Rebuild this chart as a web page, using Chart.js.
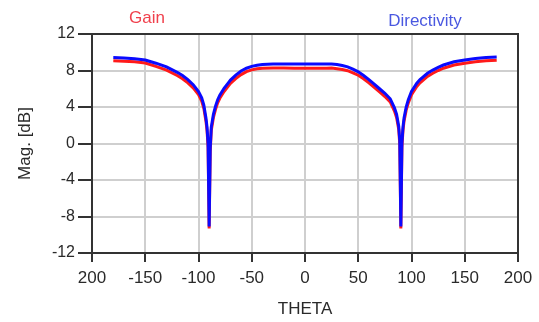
<!DOCTYPE html>
<html>
<head>
<meta charset="utf-8">
<script src="https://cdn.jsdelivr.net/npm/chart.js@4.4.0/dist/chart.umd.min.js"></script>
<style>
  html, body { margin: 0; padding: 0; background: #fff; }
  #wrap { width: 539px; height: 322px; }
</style>
</head>
<body>
<div id="wrap"><canvas id="myChart" width="539" height="322"></canvas></div>
<script>
// theta sweep (deg) and pattern magnitudes (dB)
const theta = [-180,-170,-160,-150,-140,-130,-120,-115,-110,-105,
  -100,-97,-95,-93,-92,-91,-90,-89,-88,-87,
  -86,-84,-82,-80,-76,-72,-70,-65,-60,-55,
  -50,-45,-40,-30,-20,-10,0,10,20,25,
  30,35,40,45,50,55,60,65,70,75,
  80,84,86,88,89,90,91,92,93,95,
  97,100,105,108,111,115,120,125,130,140,
  150,160,170,180];

const directivity = [9.42,9.38,9.3,9.15,8.8,8.4,7.8,7.45,7.0,6.45,
  5.7,5.0,4.2,2.8,1.8,0.0,-9.1,-0.5,1.8,2.5,
  3.2,4.1,4.8,5.3,6.05,6.65,6.95,7.5,7.95,8.25,
  8.45,8.58,8.66,8.72,8.72,8.7,8.7,8.7,8.7,8.72,
  8.65,8.55,8.4,8.15,7.85,7.45,7.0,6.5,6.0,5.5,
  4.9,3.9,3.2,1.9,0.3,-9.1,0.0,1.8,2.8,4.0,
  4.8,5.7,6.6,7.0,7.3,7.7,8.05,8.35,8.6,8.95,
  9.15,9.32,9.42,9.48];

const gain = [9.06,9.02,8.95,8.82,8.45,8.05,7.45,7.1,6.65,6.1,
  5.35,4.65,3.85,2.45,1.45,-0.4,-9.3,-0.9,1.45,2.15,
  2.85,3.75,4.45,4.95,5.7,6.3,6.6,7.12,7.55,7.87,
  8.07,8.18,8.24,8.27,8.27,8.25,8.25,8.25,8.25,8.27,
  8.2,8.1,7.98,7.75,7.48,7.1,6.65,6.15,5.65,5.15,
  4.55,3.55,2.85,1.55,-0.1,-9.3,-0.4,1.45,2.45,3.65,
  4.45,5.35,6.25,6.65,6.95,7.35,7.7,8.0,8.25,8.6,
  8.8,8.96,9.06,9.12];

const xTicks = [-200,-150,-100,-50,0,50,100,150,200];
const yLabels = [-12,-8,-4,0,4,8,12];

Chart.defaults.font.family = '"Liberation Sans", Arial, sans-serif';
Chart.defaults.color = '#2a2a2a';

function points(ys){
  return theta.map(function(t, i){ return {x: t, y: ys[i]}; });
}

// box around the plot area plus the two trace names
const frame = {
  id: 'frame',
  afterDraw: function(chart){
    const c = chart.ctx, a = chart.chartArea;
    c.save();
    c.strokeStyle = '#333';
    c.lineWidth = 2;
    c.strokeRect(a.left, a.top, a.right - a.left, a.bottom - a.top);
    c.font = '17px "Liberation Sans", Arial, sans-serif';
    c.textAlign = 'center';
    c.textBaseline = 'middle';
    c.fillStyle = '#f0404c';
    c.fillText('Gain', 147, 18);
    c.fillStyle = '#4a58e0';
    c.fillText('Directivity', 425, 21);
    c.restore();
  }
};

new Chart(document.getElementById('myChart'), {
  type: 'scatter',
  data: {
    datasets: [{
      label: 'Gain',
      data: points(gain),
      showLine: true,
      borderColor: '#ff1a1a',
      borderWidth: 3,
      pointRadius: 0,
      order: 2
    }, {
      label: 'Directivity',
      data: points(directivity),
      showLine: true,
      borderColor: '#0a0aff',
      borderWidth: 3,
      pointRadius: 0,
      order: 1
    }]
  },
  options: {
    responsive: false,
    animation: false,
    layout: { padding: { left: 0, top: 34, right: 21, bottom: 0 } },
    plugins: { legend: { display: false }, tooltip: { enabled: false } },
    scales: {
      x: {
        type: 'linear',
        min: -200,
        max: 200,
        afterBuildTicks: function(s){ s.ticks = xTicks.map(function(v){ return {value: v}; }); },
        afterFit: function(s){ s.height = 69; },
        ticks: {
          font: { size: 17 },
          padding: 6,
          maxRotation: 0,
          callback: function(v){ return v === -200 ? '200' : String(v); }
        },
        grid: { color: '#cfcfcf', lineWidth: 2, tickColor: '#333', tickLength: 9 },
        border: { color: '#333', width: 2 },
        title: { display: true, text: 'THETA', font: { size: 17 }, padding: { top: 0, bottom: 2 } }
      },
      y: {
        min: -12,
        max: 12,
        ticks: {
          stepSize: 2,
          font: { size: 16 },
          padding: 3,
          callback: function(v){ return yLabels.indexOf(v) >= 0 ? String(v) : ''; }
        },
        afterFit: function(s){ s.width = 92; },
        grid: {
          color: function(ctx){ return yLabels.indexOf(ctx.tick.value) >= 0 ? '#cfcfcf' : 'rgba(0,0,0,0)'; },
          lineWidth: 2,
          tickColor: '#333',
          tickLength: 14
        },
        border: { color: '#333', width: 2 },
        title: { display: true, text: 'Mag. [dB]', font: { size: 17 }, padding: { top: 15, bottom: 0 } }
      }
    }
  },
  plugins: [frame]
});
</script>
</body>
</html>
